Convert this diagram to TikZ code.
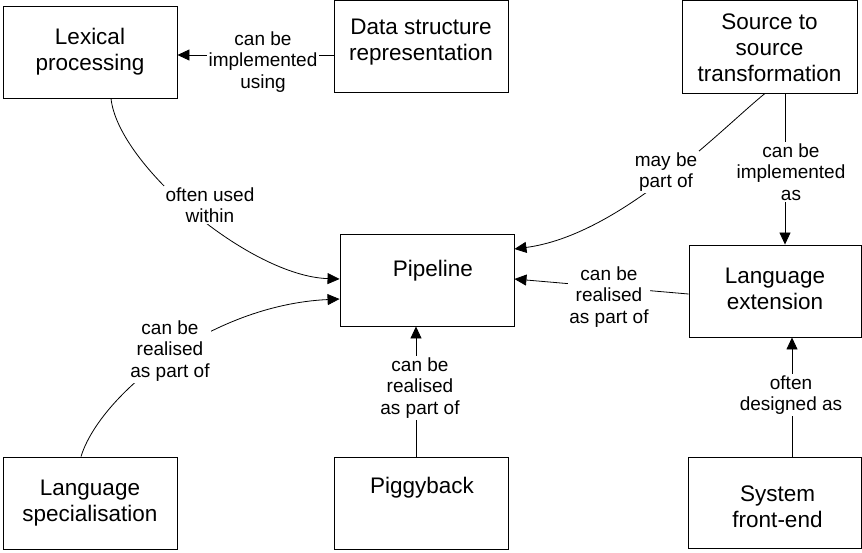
\documentclass[tikz,border=0pt]{standalone}
\usepackage{fontspec}
\setmainfont{Liberation Sans}
\usetikzlibrary{arrows.meta}
\begin{document}
\begin{tikzpicture}[x=1pt,y=-1pt,
  box/.style={draw, line width=0.9pt, minimum width=#1, minimum height=92pt, inner sep=0pt},
  box/.default=174pt,
  btext/.style={align=center, font=\fontsize{22.5}{26}\selectfont, inner sep=0pt},
  lbl/.style={align=center, font=\fontsize{19}{21.5}\selectfont, fill=white, inner sep=1.5pt},
  arr/.style={line width=0.8pt, -{Triangle[length=12pt,width=11pt]}},
  con/.style={line width=0.8pt}]
\useasboundingbox (0,0) rectangle (862,552);
% boxes
\node[box, label={[btext, yshift=0.5pt]center:Lexical\\processing}] (lex) at (90,52) {};
\node[box, label={[btext, yshift=4.5pt]center:Data structure\\representation}] (ds) at (421,46.5) {};
\node[box=175pt, minimum height=93pt, label={[btext, yshift=-1pt]center:Source to\\source\\transformation}] (src) at (769.5,46.5) {};
\node[box, label={[btext, yshift=9pt, xshift=6pt]center:Pipeline}] (pipe) at (427,280) {};
\node[box=172pt, label={[btext, yshift=2pt]center:Language\\extension}] (lext) at (775,291) {};
\node[box, label={[btext, yshift=0pt]center:Language\\specialisation}] (lspec) at (90,503) {};
\node[box, label={[btext, yshift=15.5pt, xshift=1pt]center:Piggyback}] (pig) at (421,503) {};
\node[box=173pt, minimum height=91pt, label={[btext, yshift=-4.5pt, xshift=3pt]center:System\\front-end}] (sfe) at (774.5,502.5) {};
% connectors
\draw[arr] ([yshift=-8.5pt]ds.west) -- ([yshift=-8.5pt]ds.west -| lex.east);
\node[lbl] (l1) at (263,62) {can be\\implemented\\using};

\draw[arr] ([xshift=21pt]lex.south) .. controls (118,165) and (250,276) .. ([yshift=1pt]pipe.west);
\node[lbl] (l2) at (210,205) {often used\\within};

\draw[arr] ([xshift=-9pt]lspec.north) .. controls (100,395) and (210,305) .. ([yshift=-19pt]pipe.west);
\node[lbl] (l3) at (170,351) {can be\\realised\\as part of};

\draw[arr] ([xshift=-5pt]pig.north) -- ([xshift=-5pt]pig.north |- pipe.south);
\node[lbl] (l4) at (420,388) {can be\\realised\\as part of};

\draw[arr] ([xshift=-4.5pt]src.south) .. controls (720,130) and (620,235) .. ([yshift=31pt]pipe.east);
\node[lbl] (l5) at (666,172) {may be\\part of};

\draw[arr] ([xshift=15.5pt]src.south) -- ([xshift=15.5pt]src.south |- lext.north);
\node[lbl] (l6) at (791,172) {can be\\implemented\\as};

\draw[arr] ([yshift=-3pt]lext.west) -- ([yshift=1pt]pipe.east);
\node[lbl] (l7) at (609,297) {can be\\realised\\as part of};

\draw[arr] ([xshift=17.5pt]sfe.north) -- ([xshift=17.5pt]sfe.north |- lext.south);
\node[lbl] (l8) at (791,395) {often\\designed as};
\end{tikzpicture}
\end{document}
